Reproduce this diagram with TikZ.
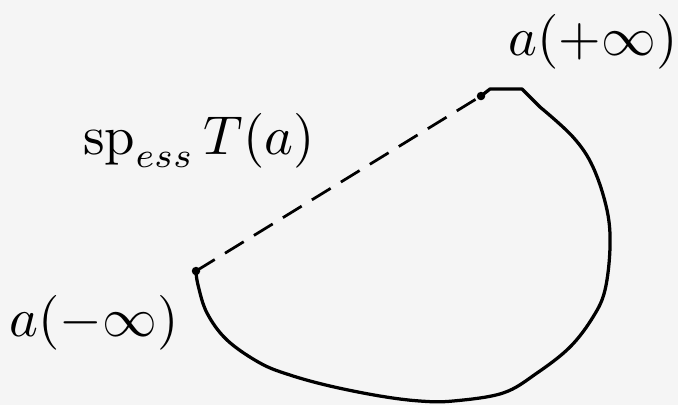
\documentclass[tikz,border=0pt]{standalone}
\begin{document}
\begin{tikzpicture}[x=0.2pt,y=-0.2pt,
  curve/.style={line width=0.65pt,line join=round,line cap=round},
  dashline/.style={line width=0.55pt,dash pattern=on 4.4pt off 2.4pt},
  dot/.style={circle,fill=black,inner sep=0pt,minimum size=1.7pt},
  lbl/.style={inner sep=0pt,font=\fontsize{10.7}{12}\selectfont}]
\fill[white!96!black] (0,0) rectangle (678,405);
\useasboundingbox (0,0) rectangle (678,405);
\coordinate (am) at (196,271);
\coordinate (ap) at (481,96);
\coordinate (c1) at (490,89);
\coordinate (c2) at (522,89);
\draw[dashline] (am) -- (ap);
\draw[curve] (ap) -- (c1) -- (c2) -- (540,107)
  plot[smooth,tension=0.6] coordinates {(540,107) (573,137) (593,167) (607,210) (610,247) (605,290) (593,317) (570,347) (537,373) (503,393) (453,401) (420,401) (380,396) (330,386) (290,375) (260,363) (227,340) (207,313) (198,285) (am)};
\node[dot] (pm) at (am) {};
\node[dot] (pp) at (ap) {};
\node[lbl] (lp) at (593,42) {$a(+\infty)$};
\node[lbl,font=\fontsize{11.2}{13}\selectfont] (lm) at (94,323) {$a(-\infty)$};
\node[lbl] (ls) at (199,141) {$\mathrm{sp}_{ess}\,T(a)$};
\end{tikzpicture}
\end{document}
